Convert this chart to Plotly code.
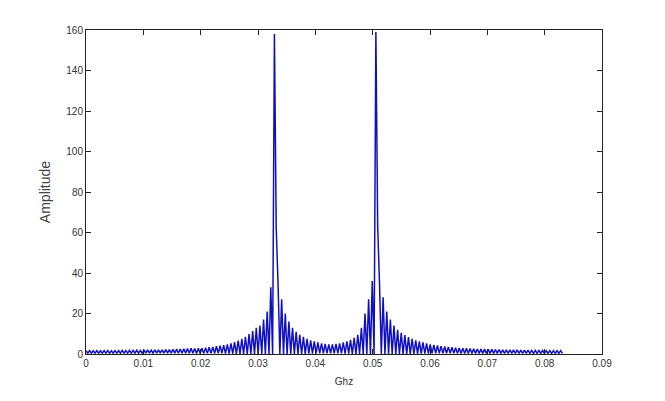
import plotly.graph_objects as go

# FFT bin spacing (GHz) and per-bin amplitudes
bin_width = 0.000632

# upper (tooth tops) amplitude per bin
upper = [
    1.6, 1.7, 1.6, 1.7, 1.6, 1.7, 1.7, 1.6, 1.7, 1.7,
    1.8, 1.7, 1.8, 1.8, 1.9, 1.8, 1.9, 2.0, 1.9, 2.0,
    2.1, 2.1, 2.2, 2.2, 2.3, 2.4, 2.5, 2.6, 2.7, 2.8,
    2.7, 2.8, 2.9, 3.1, 3.3, 3.5, 3.8, 4.1, 4.4, 4.8,
    5.3, 5.9, 6.6, 7.5, 8.5, 9.8, 11.3, 13.0, 14.0, 17.0,
    21.0, 33.0, 158.0, 35.0, 27.0, 20.0, 16.0, 13.0, 11.0, 9.5,
    8.5, 7.5, 6.8, 6.2, 5.7, 5.3, 5.0, 4.8, 4.8, 5.0,
    5.3, 5.7, 6.3, 7.0, 8.0, 9.5, 13.0, 20.0, 27.0, 36.0,
    159.0, 35.0, 28.0, 21.0, 17.0, 14.0, 12.0, 10.5, 9.3, 8.3,
    7.5, 6.8, 6.2, 5.7, 5.2, 4.8, 4.5, 4.2, 3.9, 3.7,
    3.5, 3.3, 3.1, 3.0, 2.9, 2.8, 2.7, 2.6, 2.5, 2.4,
    2.4, 2.3, 2.3, 2.2, 2.2, 2.1, 2.1, 2.0, 2.0, 2.0,
    1.9, 1.9, 1.9, 1.8, 1.8, 1.8, 1.8, 1.7, 1.7, 1.7,
    1.7, 1.7,
]

# lower (trough) amplitude between consecutive tooth tops
lower = [
    0.4, 0.4, 0.4, 0.4, 0.4, 0.4, 0.4, 0.4, 0.4, 0.4,
    0.4, 0.4, 0.4, 0.4, 0.4, 0.4, 0.4, 0.4, 0.4, 0.4,
    0.4, 0.4, 0.4, 0.4, 0.4, 0.4, 0.4, 0.4, 0.4, 0.4,
    0.3, 0.3, 0.3, 0.3, 0.3, 0.3, 0.3, 0.3, 0.2, 0.2,
    0.2, 0.1, 0.1, 0.0, 0.0, 0.0, 0.0, 0.0, 0.0, 0.0,
    0.0, 0.0, 62.0, 0.0, 0.0, 0.0, 0.0, 0.0, 0.0, 0.0,
    0.0, 0.2, 0.2, 0.3, 0.3, 0.3, 0.3, 0.3, 0.3, 0.3,
    0.3, 0.2, 0.2, 0.0, 0.0, 0.0, 0.0, 0.0, 0.0, 0.0,
    63.0, 0.0, 0.0, 0.0, 0.0, 0.0, 0.0, 0.0, 0.0, 0.0,
    0.0, 0.1, 0.2, 0.2, 0.2, 0.3, 0.3, 0.3, 0.3, 0.3,
    0.3, 0.3, 0.3, 0.3, 0.3, 0.3, 0.3, 0.3, 0.3, 0.3,
    0.3, 0.3, 0.3, 0.3, 0.3, 0.3, 0.3, 0.3, 0.3, 0.3,
    0.3, 0.3, 0.3, 0.3, 0.3, 0.3, 0.3, 0.3, 0.3, 0.3,
    0.3, 0.3,
]

x_ticks = [0, 0.01, 0.02, 0.03, 0.04, 0.05, 0.06, 0.07, 0.08, 0.09]
x_tick_labels = ["0", "0.01", "0.02", "0.03", "0.04", "0.05", "0.06", "0.07", "0.08", "0.09"]
y_ticks = [0, 20, 40, 60, 80, 100, 120, 140, 160]

xs, ys = [], []
for k, (hi, lo) in enumerate(zip(upper, lower)):
    xs.append(k * bin_width)
    ys.append(hi)
    xs.append((k + 0.5) * bin_width)
    ys.append(lo)

fig = go.Figure()
fig.add_trace(go.Scatter(
    x=xs, y=ys, mode="lines",
    line=dict(color="#1010c0", width=1.5),
    showlegend=False, hoverinfo="skip",
))

tick_font = dict(family="Liberation Sans Narrow, Liberation Sans, Arial, sans-serif", size=10, color="#333333")
fig.update_layout(
    width=665, height=401,
    margin=dict(l=78, r=71, t=22, b=55),
    paper_bgcolor="white", plot_bgcolor="white",
    xaxis=dict(
        range=[0, 0.09], tickvals=x_ticks, ticktext=x_tick_labels,
        ticks="inside", ticklen=5, tickcolor="#222", tickwidth=1,
        showline=True, linecolor="#222", linewidth=1, mirror="ticks",
        showgrid=False, zeroline=False, tickfont=tick_font,
        title=dict(text="Ghz", standoff=9,
                   font=dict(family="Liberation Sans Narrow, Liberation Sans, Arial, sans-serif", size=10, color="#333333")),
    ),
    yaxis=dict(
        range=[0, 160], tickvals=y_ticks,
        ticks="inside", ticklen=5, tickcolor="#222", tickwidth=1,
        showline=True, linecolor="#222", linewidth=1, mirror="ticks",
        showgrid=False, zeroline=False, tickfont=tick_font,
        title=dict(text="Amplitude", standoff=12,
                   font=dict(family="Liberation Sans, Arial, sans-serif", size=14, color="#444444")),
    ),
)

fig.write_html("out.html")
